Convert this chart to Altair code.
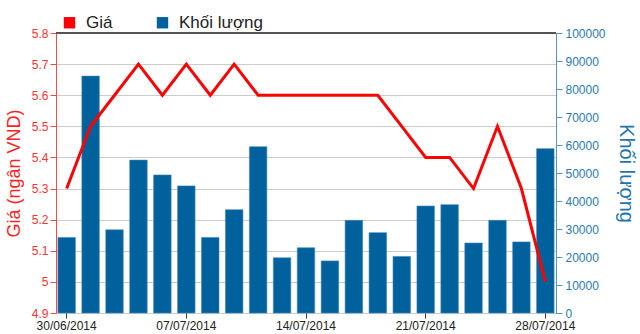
import altair as alt
import pandas as pd

dates = ["30/06/2014", "01/07/2014", "02/07/2014", "03/07/2014", "04/07/2014",
         "07/07/2014", "08/07/2014", "09/07/2014", "10/07/2014", "11/07/2014",
         "14/07/2014", "15/07/2014", "16/07/2014", "17/07/2014", "18/07/2014",
         "21/07/2014", "22/07/2014", "23/07/2014", "24/07/2014", "25/07/2014",
         "28/07/2014"]
price = [5.3, 5.5, 5.6, 5.7, 5.6, 5.7, 5.6, 5.7, 5.6, 5.6,
         5.6, 5.6, 5.6, 5.6, 5.5, 5.4, 5.4, 5.3, 5.5, 5.3, 5.0]
volume = [27000, 84600, 29700, 54600, 49300, 45400, 27000, 36900, 59400, 19700,
          23300, 18600, 33100, 28700, 20200, 38200, 38700, 25000, 33100, 25400, 58700]
tick_labels = ["30/06/2014", "07/07/2014", "14/07/2014", "21/07/2014", "28/07/2014"]
price_ticks = [4.9, 5.0, 5.1, 5.2, 5.3, 5.4, 5.5, 5.6, 5.7, 5.8]
vol_ticks = [0, 10000, 20000, 30000, 40000, 50000, 60000, 70000, 80000, 90000, 100000]
series_names = ["Giá", "Khối lượng"]

df = pd.DataFrame({"date": dates, "price": price, "volume": volume,
                   "series": ["Khối lượng"] * len(dates)})

FONT = "Liberation Sans"
RED = "#ff0000"
BLUE = "#00619d"

x_enc = alt.X("date:O", sort=dates, title=None,
              scale=alt.Scale(paddingInner=0.27, paddingOuter=0.08),
              axis=alt.Axis(values=tick_labels, labelAngle=0, domain=False,
                            tickColor="#333333", tickSize=5, labelColor="#222222",
                            labelFontSize=12, labelPadding=2, labelFont=FONT,
                            grid=False))

bars = alt.Chart(df).mark_bar(stroke="#3d86b8", strokeWidth=0.6).encode(
    x=x_enc,
    y=alt.Y("volume:Q", title="Khối lượng",
            scale=alt.Scale(domain=[0, 100000], nice=False),
            axis=alt.Axis(orient="right", values=vol_ticks, grid=False, format="d",
                          domainColor="#5795bd", tickColor="#5795bd", tickSize=6,
                          labelColor="#2a7aae", labelFontSize=12, labelFont=FONT,
                          titleColor="#1f74a8", titleFontSize=20, titleFont=FONT,
                          titleFontWeight="normal", titlePadding=10, labelPadding=3)),
    color=alt.Color("series:N",
                    scale=alt.Scale(domain=series_names, range=[RED, BLUE]),
                    legend=alt.Legend(title=None, orient="none", direction="horizontal",
                                      legendX=5, legendY=-19, symbolType="square",
                                      symbolSize=130, symbolStrokeWidth=0,
                                      labelFontSize=17, labelFont=FONT, labelColor="#222222",
                                      labelOffset=8, columnPadding=41, padding=0)),
)

line = alt.Chart(df).mark_line(color=RED, strokeWidth=3).encode(
    x=alt.X("date:O", sort=dates),
    y=alt.Y("price:Q", title="Giá (ngân VND)",
            scale=alt.Scale(domain=[4.9, 5.8], nice=False, zero=False),
            axis=alt.Axis(orient="left", values=price_ticks, format="~g", grid=True,
                          gridColor="#cccccc", gridWidth=1,
                          domainColor="#ff4444", tickColor="#ff4444", tickSize=6,
                          labelColor="#ff3333", labelFontSize=12, labelFont=FONT,
                          titleColor="#ff2222", titleFontSize=18, titleFont=FONT,
                          titleFontWeight="normal", titlePadding=8, labelPadding=2)),
)

top = alt.Chart(df).mark_rule(color="#555555", strokeWidth=1.5).encode(
    x=alt.value(0), x2=alt.value(500), y=alt.value(0)
)

chart = alt.layer(bars, line, top).resolve_scale(y="independent").properties(
    width=500, height=280,
    autosize=alt.AutoSizeParams(type="none"),
    padding={"left": 56, "top": 33, "right": 84, "bottom": 21},
).configure_view(stroke=None).configure(background="white")

chart.save("out.html", embed_options={"renderer": "svg", "actions": False})
